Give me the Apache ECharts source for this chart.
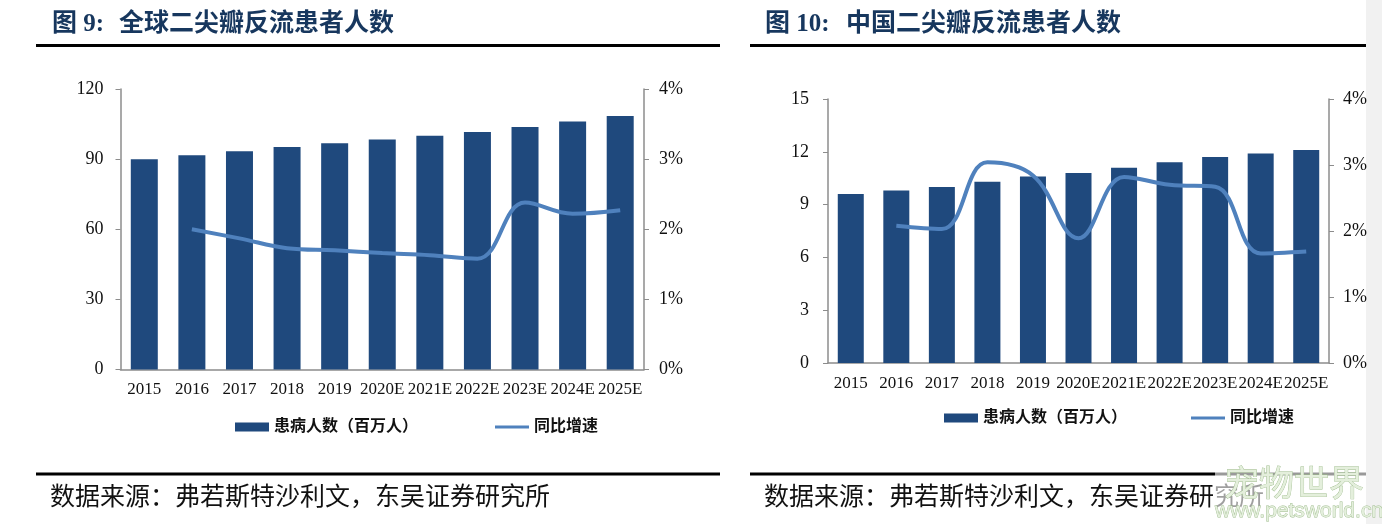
<!DOCTYPE html>
<html>
<head>
<meta charset="utf-8">
<style>
html, body { margin: 0; padding: 0; background: #fff; }
#main { width: 1382px; height: 524px; }
</style>
<script src="https://cdn.jsdelivr.net/npm/echarts@6/dist/echarts.min.js"></script>
</head>
<body>
<div id="main"></div>
<script>
// 年份
var years = ['2015', '2016', '2017', '2018', '2019', '2020E', '2021E', '2022E', '2023E', '2024E', '2025E'];
// 图 9 全球
var globalPatients = [90, 91.7, 93.4, 95.2, 96.8, 98.4, 100, 101.6, 103.7, 106.1, 108.5];
var globalGrowth = [null, 2.0, 1.87, 1.73, 1.7, 1.66, 1.63, 1.58, 2.38, 2.22, 2.27];
// 图 10 中国
var chinaPatients = [9.6, 9.8, 10, 10.3, 10.6, 10.8, 11.1, 11.4, 11.7, 11.9, 12.1];
var chinaGrowth = [null, 2.08, 2.03, 3.04, 2.84, 1.89, 2.82, 2.7, 2.67, 1.66, 1.69];

var barName = '患病人数（百万人）';
var lineName = '同比增速';
var serifFont = '"Liberation Serif", "Noto Sans CJK SC", serif';
var axisGrey = '#8c8c8c';
var lineIcon = 'path://M0,0L0,0M0,3H34V6H0ZM0,9L0,9';

var chart = echarts.init(document.getElementById('main'));

function xAxisOf(gridIndex) {
    return {
        type: 'category',
        gridIndex: gridIndex,
        data: years,
        axisLine: {lineStyle: {color: axisGrey, width: 1.5}},
        axisTick: {show: false},
        axisLabel: {interval: 0, margin: 12, color: '#111', fontSize: 17, fontFamily: serifFont}
    };
}

function yAxisOf(gridIndex, position, max, interval, margin, formatter) {
    return {
        type: 'value',
        gridIndex: gridIndex,
        position: position,
        min: 0,
        max: max,
        interval: interval,
        splitLine: {show: false},
        axisLine: {show: true, lineStyle: {color: axisGrey, width: 1.5}},
        axisTick: {show: true, length: 5, lineStyle: {color: axisGrey}},
        axisLabel: {margin: margin, color: '#111', fontSize: 18, fontFamily: serifFont, formatter: formatter}
    };
}

function barSeries(axisIndex, data, width) {
    return {
        name: barName,
        type: 'bar',
        xAxisIndex: axisIndex,
        yAxisIndex: axisIndex * 2,
        data: data,
        barWidth: width,
        itemStyle: {color: '#1f497d'}
    };
}

function lineSeries(axisIndex, data) {
    return {
        name: lineName,
        type: 'line',
        xAxisIndex: axisIndex,
        yAxisIndex: axisIndex * 2 + 1,
        data: data,
        smooth: 0.4,
        showSymbol: false,
        lineStyle: {color: '#4f81bd', width: 4},
        itemStyle: {color: '#4f81bd'}
    };
}

function legendOf(left, top, gap) {
    return {
        left: left,
        top: top,
        itemWidth: 34,
        itemHeight: 9,
        itemGap: gap,
        textStyle: {color: '#111', fontSize: 16, fontWeight: 'bold', fontFamily: serifFont},
        data: [{name: barName, icon: 'rect'}, {name: lineName, icon: lineIcon}]
    };
}

function headText(x, y, text) {
    return {
        type: 'text', x: x, y: y,
        style: {text: text, fill: '#17375e', fontSize: 25, fontWeight: 'bold', fontFamily: serifFont, textVerticalAlign: 'middle'}
    };
}

function sourceText(x, y, text) {
    return {
        type: 'text', x: x, y: y,
        style: {text: text, fill: '#111', fontSize: 25, fontFamily: serifFont, textVerticalAlign: 'middle'}
    };
}

function ruleLine(x1, x2, y) {
    return {
        type: 'line',
        shape: {x1: x1, y1: y, x2: x2, y2: y},
        style: {stroke: '#000', lineWidth: 3}
    };
}

var option = {
    animation: false,
    backgroundColor: '#fff',
    grid: [
        {left: 120.5, top: 89, width: 523.5, height: 280.5},
        {left: 828, top: 99, width: 501, height: 264}
    ],
    xAxis: [xAxisOf(0), xAxisOf(1)],
    yAxis: [
        yAxisOf(0, 'left', 120, 30, 17),
        yAxisOf(0, 'right', 4, 1, 15, '{value}%'),
        yAxisOf(1, 'left', 15, 3, 19),
        yAxisOf(1, 'right', 4, 1, 14, '{value}%')
    ],
    legend: [legendOf(230, 414, 77), legendOf(939, 405, 64)],
    series: [
        barSeries(0, globalPatients, 27),
        lineSeries(0, globalGrowth),
        barSeries(1, chinaPatients, 26),
        lineSeries(1, chinaGrowth)
    ],
    graphic: [
        headText(52, 25, '图 9:'),
        headText(119, 25, '全球二尖瓣反流患者人数'),
        headText(765, 25, '图 10:'),
        headText(846, 25, '中国二尖瓣反流患者人数'),
        ruleLine(36, 720, 45.5),
        ruleLine(750, 1366, 45.5),
        ruleLine(36, 720, 474),
        ruleLine(750, 1366, 474),
        sourceText(50, 498, '数据来源：弗若斯特沙利文，东吴证券研究所'),
        sourceText(764, 498, '数据来源：弗若斯特沙利文，东吴证券研究所'),
        // 水印
        {type: 'rect', shape: {x: 1215, y: 470, width: 151, height: 54}, style: {fill: 'rgba(255,255,255,0.6)'}},
        {type: 'rect', shape: {x: 1366, y: 0, width: 16, height: 524}, style: {fill: '#f1f1f1'}},
        {
            type: 'text', x: 1224, y: 487,
            style: {text: '宠物世界', fill: '#e4efdc', stroke: '#9dbb8c', lineWidth: 0.8, fontSize: 35, fontFamily: serifFont, textVerticalAlign: 'middle'}
        },
        {
            type: 'text', x: 1215, y: 511,
            style: {text: 'www.petsworld.cn', fill: '#e4efdc', stroke: '#9dbb8c', lineWidth: 0.8, fontSize: 21, fontFamily: 'Liberation Sans, sans-serif', textVerticalAlign: 'middle'}
        }
    ]
};
chart.setOption(option);
</script>
</body>
</html>
